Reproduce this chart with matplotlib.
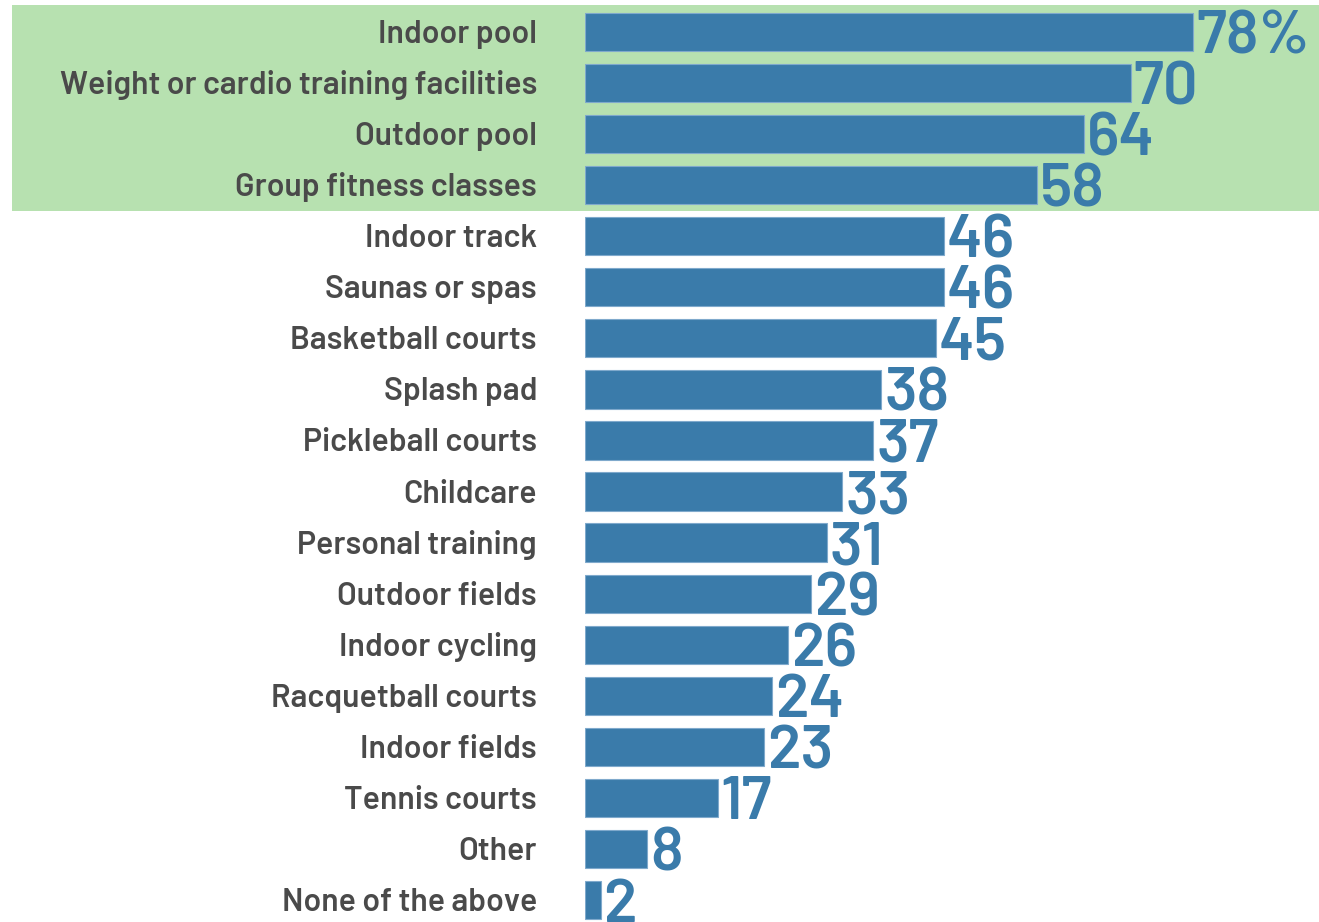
import matplotlib
matplotlib.use("Agg")
import matplotlib.pyplot as plt
from matplotlib.patches import Rectangle
from matplotlib.transforms import blended_transform_factory, offset_copy

categories = ["Indoor pool", "Weight or cardio training facilities", "Outdoor pool",
              "Group fitness classes", "Indoor track", "Saunas or spas", "Basketball courts",
              "Splash pad", "Pickleball courts", "Childcare", "Personal training",
              "Outdoor fields", "Indoor cycling", "Racquetball courts", "Indoor fields",
              "Tennis courts", "Other", "None of the above"]
values = [78, 70, 64, 58, 46, 46, 45, 38, 37, 33, 31, 29, 26, 24, 23, 17, 8, 2]
value_labels = ["78%"] + [str(v) for v in values[1:]]
highlight_count = 4

fam = ["Barlow", "DejaVu Sans"]

W, H = 1319, 922
fig = plt.figure(figsize=(W / 100, H / 100), dpi=100)
x0 = 585
pxu = (1193 - 585) / 78.0
ax = fig.add_axes([x0 / W, 0, 1 - x0 / W, 1])
ax.set_xlim(0, (W - x0) / pxu)
pitch = (900 - 32) / 17.0
ax.set_ylim((H - 32) / pitch, -32 / pitch)
ax.axis("off")

bar_color = "#3A7BAA"
green = "#B7E1B0"
label_col = "#4A4A4A"

tr = blended_transform_factory(fig.transFigure, ax.transData)
band = Rectangle((12 / W, -27 / pitch), 1 - 12 / W, highlight_count - 1 + (27 + 25.5) / pitch,
                 transform=tr, facecolor=green, edgecolor="none", zorder=0, clip_on=False)
fig.add_artist(band)

y = list(range(len(categories)))
ax.barh(y, values, height=0.75, color=bar_color, edgecolor="#7FA9CC", linewidth=0.8, zorder=2)

lab_tr = offset_copy(tr, fig=fig, x=0, y=-11 * 0.72, units="points")
val_tr = offset_copy(ax.transData, fig=fig, x=3 * 0.72, y=-21.5 * 0.72, units="points")
for i, (c, v, lab) in enumerate(zip(categories, values, value_labels)):
    ax.text(537 / W, i, c, transform=lab_tr, ha="right", va="baseline", fontsize=23,
            fontweight=600, color=label_col, family=fam)
    ax.text(v, i, lab, transform=val_tr, ha="left", va="baseline", fontsize=44,
            fontweight=600, color=bar_color, family=fam, zorder=3)

fig.savefig("out.png", dpi=100)
